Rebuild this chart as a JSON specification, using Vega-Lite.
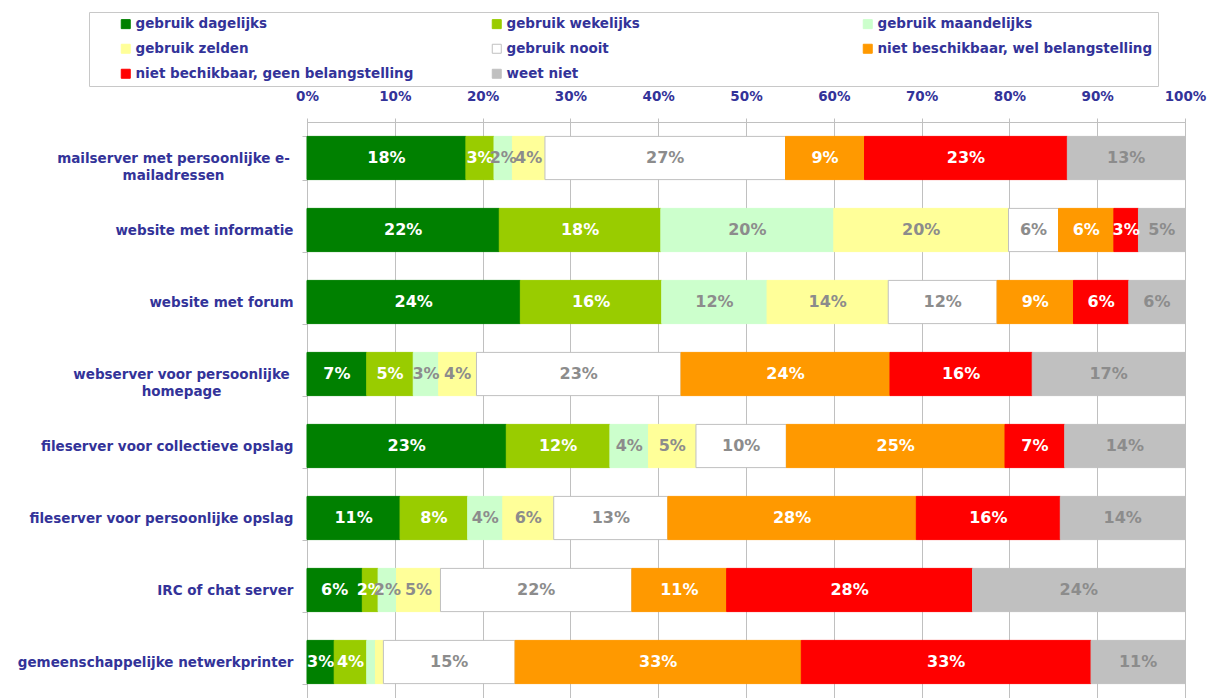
{
  "$schema": "https://vega.github.io/schema/vega-lite/v6.json",
  "width": 878,
  "height": 576,
  "autosize": {"type": "none"},
  "padding": {"left": 307, "top": 122, "right": 31, "bottom": 0},
  "background": "white",
  "config": {"view": {"stroke": "#c0c0c0", "strokeWidth": 1}, "font": "DejaVu Sans"},
  "data": {
    "values": [
      {"item": "mailserver met persoonlijke e-mailadressen", "gebruik dagelijks": 0.181, "gebruik wekelijks": 0.032, "gebruik maandelijks": 0.021, "gebruik zelden": 0.037, "gebruik nooit": 0.274, "niet beschikbaar, wel belangstelling": 0.090, "niet bechikbaar, geen belangstelling": 0.231, "weet niet": 0.134},
      {"item": "website met informatie", "gebruik dagelijks": 0.219, "gebruik wekelijks": 0.184, "gebruik maandelijks": 0.197, "gebruik zelden": 0.199, "gebruik nooit": 0.057, "niet beschikbaar, wel belangstelling": 0.063, "niet bechikbaar, geen belangstelling": 0.028, "weet niet": 0.053},
      {"item": "website met forum", "gebruik dagelijks": 0.243, "gebruik wekelijks": 0.161, "gebruik maandelijks": 0.120, "gebruik zelden": 0.138, "gebruik nooit": 0.124, "niet beschikbaar, wel belangstelling": 0.087, "niet bechikbaar, geen belangstelling": 0.063, "weet niet": 0.064},
      {"item": "webserver voor persoonlijke homepage", "gebruik dagelijks": 0.068, "gebruik wekelijks": 0.053, "gebruik maandelijks": 0.029, "gebruik zelden": 0.043, "gebruik nooit": 0.233, "niet beschikbaar, wel belangstelling": 0.238, "niet bechikbaar, geen belangstelling": 0.162, "weet niet": 0.174},
      {"item": "fileserver voor collectieve opslag", "gebruik dagelijks": 0.227, "gebruik wekelijks": 0.118, "gebruik maandelijks": 0.044, "gebruik zelden": 0.054, "gebruik nooit": 0.103, "niet beschikbaar, wel belangstelling": 0.249, "niet bechikbaar, geen belangstelling": 0.068, "weet niet": 0.137},
      {"item": "fileserver voor persoonlijke opslag", "gebruik dagelijks": 0.106, "gebruik wekelijks": 0.077, "gebruik maandelijks": 0.040, "gebruik zelden": 0.058, "gebruik nooit": 0.130, "niet beschikbaar, wel belangstelling": 0.283, "niet bechikbaar, geen belangstelling": 0.164, "weet niet": 0.142},
      {"item": "IRC of chat server", "gebruik dagelijks": 0.063, "gebruik wekelijks": 0.018, "gebruik maandelijks": 0.021, "gebruik zelden": 0.050, "gebruik nooit": 0.218, "niet beschikbaar, wel belangstelling": 0.108, "niet bechikbaar, geen belangstelling": 0.280, "weet niet": 0.242},
      {"item": "gemeenschappelijke netwerkprinter", "gebruik dagelijks": 0.031, "gebruik wekelijks": 0.037, "gebruik maandelijks": 0.010, "gebruik zelden": 0.009, "gebruik nooit": 0.150, "niet beschikbaar, wel belangstelling": 0.326, "niet bechikbaar, geen belangstelling": 0.330, "weet niet": 0.107}
    ]
  },
  "transform": [
    {"fold": ["gebruik dagelijks", "gebruik wekelijks", "gebruik maandelijks", "gebruik zelden", "gebruik nooit", "niet beschikbaar, wel belangstelling", "niet bechikbaar, geen belangstelling", "weet niet"], "as": ["cat", "v"]},
    {"calculate": "indexof(['gebruik dagelijks', 'gebruik wekelijks', 'gebruik maandelijks', 'gebruik zelden', 'gebruik nooit', 'niet beschikbaar, wel belangstelling', 'niet bechikbaar, geen belangstelling', 'weet niet'], datum.cat)", "as": "ord"},
    {"stack": "v", "groupby": ["item"], "sort": [{"field": "ord", "order": "ascending"}], "offset": "normalize", "as": ["x0", "x1"]},
    {"calculate": "(datum.x0 + datum.x1) / 2", "as": "xm"}
  ],
  "encoding": {
    "y": {
      "field": "item",
      "type": "nominal",
      "sort": ["mailserver met persoonlijke e-mailadressen", "website met informatie", "website met forum", "webserver voor persoonlijke homepage", "fileserver voor collectieve opslag", "fileserver voor persoonlijke opslag", "IRC of chat server", "gemeenschappelijke netwerkprinter"],
      "scale": {"paddingInner": 0.4, "paddingOuter": 0.2},
      "axis": {
        "title": null,
        "orient": "left",
        "tickBand": "extent",
        "tickSize": 5,
        "tickColor": "#c0c0c0",
        "domainColor": "#c0c0c0",
        "labelColor": "#333399",
        "labelFont": "DejaVu Sans",
        "labelFontWeight": "bold",
        "labelFontSize": 13.5,
        "labelLimit": 320,
        "labelLineHeight": 17,
        "labelExpr": "datum.value == 'mailserver met persoonlijke e-mailadressen' ? ['mailserver met persoonlijke e-', 'mailadressen'] : datum.value == 'webserver voor persoonlijke homepage' ? ['webserver voor persoonlijke', 'homepage'] : datum.value",
        "labelAlign": {"condition": {"test": "datum.value == 'mailserver met persoonlijke e-mailadressen' || datum.value == 'webserver voor persoonlijke homepage'", "value": "center"}, "value": "right"},
        "labelPadding": {"condition": [{"test": "datum.value == 'mailserver met persoonlijke e-mailadressen'", "value": 129}, {"test": "datum.value == 'webserver voor persoonlijke homepage'", "value": 121}], "value": 9}
      }
    }
  },
  "layer": [
    {
      "mark": {"type": "bar", "strokeWidth": 1},
      "encoding": {
        "x": {
          "field": "x0",
          "type": "quantitative",
          "scale": {"domain": [0, 1]},
          "axis": {
            "title": null,
            "orient": "top",
            "format": ".0%",
            "values": [0, 0.1, 0.2, 0.3, 0.4, 0.5, 0.6, 0.7, 0.8, 0.9, 1],
            "labelFlush": false,
            "labelOverlap": false,
            "labelColor": "#333399",
            "labelFont": "DejaVu Sans",
            "labelFontWeight": "bold",
            "labelFontSize": 13.5,
            "labelPadding": 15,
            "tickSize": 4,
            "tickColor": "#c0c0c0",
            "domainColor": "#c0c0c0",
            "grid": true,
            "gridColor": "#c0c0c0",
            "gridOpacity": 1
          }
        },
        "x2": {"field": "x1"},
        "fill": {
          "field": "cat",
          "type": "nominal",
          "scale": {
            "domain": ["gebruik dagelijks", "gebruik wekelijks", "gebruik maandelijks", "gebruik zelden", "gebruik nooit", "niet beschikbaar, wel belangstelling", "niet bechikbaar, geen belangstelling", "weet niet"],
            "range": ["#008000", "#99cc00", "#ccffcc", "#ffff99", "#ffffff", "#ff9900", "#ff0000", "#c0c0c0"]
          },
          "legend": {
            "title": null,
            "orient": "none",
            "legendX": -218,
            "legendY": -110,
            "direction": "horizontal",
            "columns": 3,
            "gridAlign": "all",
            "columnPadding": 51,
            "rowPadding": 10,
            "padding": 5,
            "symbolType": "square",
            "symbolSize": 81,
            "symbolOffset": 25,
            "symbolStrokeWidth": 1,
            "labelOffset": 3,
            "labelFont": "DejaVu Sans",
            "labelFontSize": 13.5,
            "labelFontWeight": "bold",
            "labelColor": "#333399",
            "labelLimit": 400,
            "strokeColor": "#c8c8c8",
            "fillColor": "white"
          }
        },
        "stroke": {
          "field": "cat",
          "type": "nominal",
          "scale": {
            "domain": ["gebruik dagelijks", "gebruik wekelijks", "gebruik maandelijks", "gebruik zelden", "gebruik nooit", "niet beschikbaar, wel belangstelling", "niet bechikbaar, geen belangstelling", "weet niet"],
            "range": ["#008000", "#99cc00", "#ccffcc", "#ffff99", "#c0c0c0", "#ff9900", "#ff0000", "#c0c0c0"]
          }
        }
      }
    },
    {
      "transform": [{"filter": "datum.v >= 0.015"}],
      "mark": {"type": "text", "font": "DejaVu Sans", "fontWeight": "bold", "fontSize": 16, "baseline": "middle", "align": "center"},
      "encoding": {
        "x": {"field": "xm", "type": "quantitative"},
        "text": {"field": "v", "type": "quantitative", "format": ".0%"},
        "color": {
          "condition": {"test": "indexof(['gebruik dagelijks', 'gebruik wekelijks', 'niet beschikbaar, wel belangstelling', 'niet bechikbaar, geen belangstelling'], datum.cat) >= 0", "value": "white"},
          "value": "#8c8c8c"
        }
      }
    }
  ]
}
